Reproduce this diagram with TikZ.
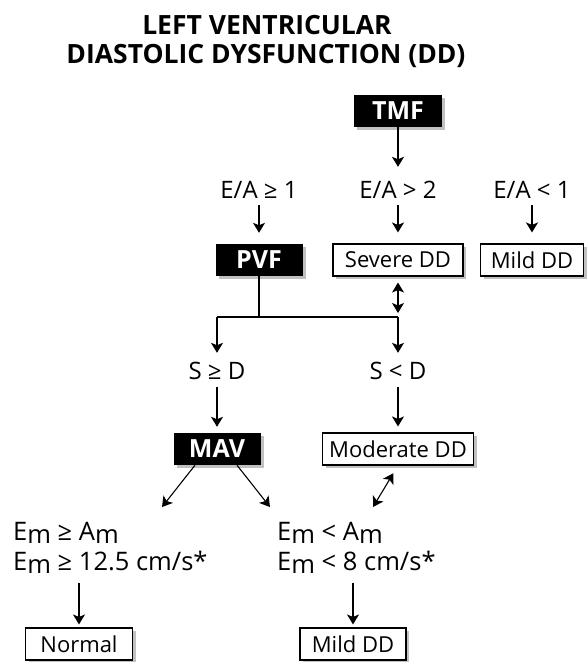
\documentclass[tikz,border=0pt]{standalone}
\usepackage{fontspec}
\setmainfont{Open Sans}
\usetikzlibrary{arrows.meta,shadows}

\newcommand{\lowm}{\raisebox{-3.5pt}{m}}

\tikzset{
  hdr/.style={font=\bfseries\fontsize{26.5}{30}\selectfont, inner sep=0pt, anchor=base},
  cond/.style={font=\fontsize{24}{26}\selectfont, inner sep=0pt, text height=16pt, text depth=0pt, anchor=base},
  crit/.style={font=\fontsize{25.5}{28}\selectfont, inner sep=0pt, text height=17pt, text depth=0pt, anchor=base west},
  boxshadow/.style={drop shadow={shadow xshift=3pt, shadow yshift=-3pt, opacity=0.35, fill=black!70}},
  darkbox/.style={fill=black, text=white, font=\bfseries\fontsize{25}{28}\selectfont, minimum height=32pt, inner sep=0pt, boxshadow},
  outbox/.style={draw, fill=white, line width=1.1pt, font=\fontsize{22}{26}\selectfont, minimum height=32pt, inner sep=0pt, boxshadow},
  arr/.style={-{Stealth[length=10pt,width=12pt,inset=2.5pt]}, line width=1.1pt},
  darr/.style={{Stealth[length=10pt,width=12pt,inset=2.5pt]}-{Stealth[length=10pt,width=12pt,inset=2.5pt]}, line width=1.1pt},
  wire/.style={line width=1.1pt}
}

\begin{document}
\begin{tikzpicture}[x=1pt,y=-1pt]
\useasboundingbox (0,0) rectangle (587,662);

% title
\node[hdr] (ttl1) at (267,34) {LEFT VENTRICULAR};
\node[hdr] (ttl2) at (266,63) {DIASTOLIC DYSFUNCTION (DD)};

% transmitral flow
\node[darkbox, minimum width=88pt] (tmf) at (398,111) {TMF};
\node[cond] (ea1) at (259,198) {E/A ≥ 1};
\node[cond] (ea2) at (398,198) {E/A > 2};
\node[cond] (ea3) at (532,198) {E/A < 1};

\node[darkbox, minimum width=87pt] (pvf) at (259,260) {PVF};
\node[outbox, minimum width=130pt] (sev) at (398,260) {Severe DD};
\node[outbox, minimum width=103pt] (mild) at (532,260) {Mild DD};

% pulmonary venous flow
\coordinate (jm) at (259,317);
\coordinate (jl) at (217,317);
\coordinate (jr) at (398,317);
\node[cond] (sge) at (217,379) {S ≥ D};
\node[cond] (slt) at (398,379) {S < D};

\node[darkbox, minimum width=87pt] (mav) at (217,449) {MAV};
\node[outbox, minimum width=151pt] (mod) at (398,449) {Moderate DD};

% mitral annulus velocity
\coordinate (tipl) at (162,507);
\coordinate (tipr) at (270,507);
\coordinate (tipm) at (373,507);
\node[crit] (emge1) at (13,540) {E\lowm{} ≥ A\lowm};
\node[crit] (emge2) at (13,570) {E\lowm{} ≥ 12.5 cm/s*};
\node[crit] (emlt1) at (277,540) {E\lowm{} < A\lowm};
\node[crit] (emlt2) at (277,570) {E\lowm{} < 8 cm/s*};

\node[outbox, minimum width=107pt] (normal) at (79,644) {Normal};
\node[outbox, minimum width=106pt] (mild2) at (353,644) {Mild DD};

% connectors
\draw[arr, shorten >=15pt] (tmf) -- (ea2);
\draw[arr, shorten <=7pt, shorten >=11pt] (ea1) -- (pvf);
\draw[arr, shorten <=7pt, shorten >=11pt] (ea2) -- (sev);
\draw[arr, shorten <=7pt, shorten >=11pt] (ea3) -- (mild);
\draw[darr, shorten <=6pt, shorten >=4pt] (sev) -- (jr);
\draw[wire] (pvf) -- (jm);
\draw[wire] (jl) -- (jr);
\draw[arr, shorten >=10pt] (jl) -- (sge);
\draw[arr, shorten >=10pt] (jr) -- (slt);
\draw[arr, shorten <=8pt, shorten >=6pt] (sge) -- (mav);
\draw[arr, shorten <=8pt, shorten >=6pt] (slt) -- (mod);
\draw[arr] ([xshift=-22pt]mav.south) -- (tipl);
\draw[arr] ([xshift=20pt]mav.south) -- (tipr);
\draw[darr, shorten <=9pt] (mod.south) -- (tipm);
\draw[arr, shorten <=13pt, shorten >=3pt] (normal.north |- emge2.south) -- (normal.north);
\draw[arr, shorten <=13pt, shorten >=3pt] (mild2.north |- emlt2.south) -- (mild2.north);
\end{tikzpicture}
\end{document}
